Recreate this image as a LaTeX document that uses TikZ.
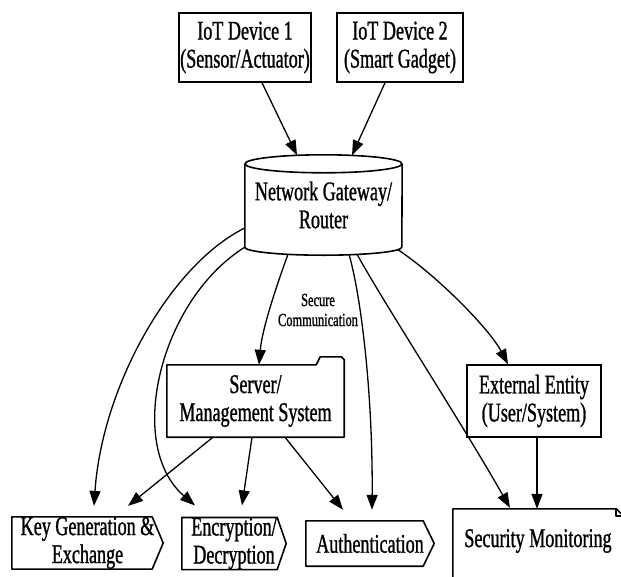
\documentclass[tikz,border=0pt]{standalone}
\usepackage{fontspec}
\setmainfont[FakeStretch=0.67,FakeBold=1]{Liberation Serif}
\usetikzlibrary{arrows.meta,calc}
\begin{document}
\begin{tikzpicture}[x=1pt,y=-1pt,
  box/.style={draw,line width=1.6pt,align=center,font=\fontsize{27}{28}\selectfont,inner sep=0pt},
  plain/.style={align=center,font=\fontsize{27}{28}\selectfont,inner sep=0pt},
  small/.style={align=center,font=\fontsize{18.5}{20}\selectfont,inner sep=0pt},
  edge/.style={line width=1.3pt,-{Triangle[length=15pt,width=11pt]}},
  outline/.style={line width=1.6pt,line join=round},
]
\useasboundingbox (0,0) rectangle (621,576);

% nodes
\node[box,minimum width=132pt,minimum height=69pt] (iot1) at (245,47.5) {IoT Device 1\\(Sensor/Actuator)};
\node[box,minimum width=126pt,minimum height=69pt] (iot2) at (400,47.5) {IoT Device 2\\(Smart Gadget)};
\node[plain,minimum width=157pt,minimum height=100pt] (gw) at (323.5,205) {Network Gateway/\\Router};
\node[plain,minimum width=177pt,minimum height=72pt] (srv) at (255.5,401) {Server/\\Management System};
\node[box,minimum width=134pt,minimum height=72pt] (ext) at (534,401) {External Entity\\(User/System)};
\node[plain,minimum width=151pt,minimum height=50pt] (kg) at (87.5,543) {Key Generation \&\\Exchange};
\node[plain,minimum width=104pt,minimum height=49pt] (enc) at (234,543.5) {Encryption/\\Decryption};
\node[plain,minimum width=128pt,minimum height=45pt] (auth) at (370,543.5) {Authentication};
\node[plain,minimum width=170pt,minimum height=64pt] (secmon) at (538,541) {Security Monitoring};
\node[small] (lbl) at (318,310) {Secure\\Communication};

% gateway cylinder
\draw[outline] ($(gw.north)+(0,9)$) ellipse [x radius=78.5pt,y radius=9pt];
\draw[outline] ($(gw.north west)+(0,9)$) -- ($(gw.south west)+(0,-8)$)
  arc[start angle=180,end angle=360,x radius=78.5pt,y radius=8pt]
  -- ($(gw.north east)+(0,9)$);

% server folder
\draw[outline] (srv.north west) -- ($(srv.north east)+(-28,0)$) -- ($(srv.north east)+(-24,-8)$)
  -- ($(srv.north east)+(-3,-8)$) -- ($(srv.north east)+(0,-5)$) -- (srv.south east)
  -- (srv.south west) -- cycle;

% signal shapes
\draw[outline] (kg.north west) -- ($(kg.north east)+(-11,0)$) -- (kg.east)
  -- ($(kg.south east)+(-11,0)$) -- (kg.south west) -- cycle;
\draw[outline] (enc.north west) -- ($(enc.north east)+(-9,0)$) -- (enc.east)
  -- ($(enc.south east)+(-9,0)$) -- (enc.south west) -- cycle;
\draw[outline] (auth.north west) -- ($(auth.north east)+(-11,0)$) -- (auth.east)
  -- ($(auth.south east)+(-11,0)$) -- (auth.south west) -- cycle;

% note shape
\draw[outline] ($(secmon.north west)+(0,80)$) -- (secmon.north west) -- ($(secmon.north east)+(-7,0)$)
  -- ($(secmon.north east)+(0,7)$) -- ($(secmon.north east)+(0,80)$);
\draw[outline] ($(secmon.north east)+(-7,0)$) -- ($(secmon.north east)+(-7,7)$) -- ($(secmon.north east)+(0,7)$);

% edges
\draw[edge] ($(iot1.south)+(17,0)$) -- ($(gw.north)+(-26.5,0.5)$);
\draw[edge] ($(iot2.south)+(-15,0)$) -- ($(gw.north)+(28.5,0.5)$);
\draw[edge] ($(gw.west)+(0,23)$) .. controls (170,265) and (102,387) .. ($(kg.north)+(6.5,-11)$);
\draw[edge] ($(gw.south west)+(0,-8)$) .. controls (160,300) and (125,445) .. ($(enc.north)+(-39,-12)$);
\draw[edge] ($(gw.south)+(-35.5,-1)$) .. controls (275,290) and (262,330) .. ($(srv.north)+(3.5,0)$);
\draw[edge] ($(gw.south)+(25.5,-1)$) .. controls (362,300) and (373,400) .. ($(auth.north)+(2,-11)$);
\draw[edge] ($(gw.south)+(33.5,-1)$) .. controls (385,305) and (460,420) .. ($(secmon.north)+(-28,-1)$);
\draw[edge] ($(gw.south)+(74.5,-5.5)$) .. controls (440,278) and (490,330) .. ($(ext.north)+(-26,0)$);
\draw[edge] ($(srv.south)+(-42.5,0)$) -- ($(kg.north)+(40.5,-11)$);
\draw[edge] ($(srv.south)+(-3.5,0)$) -- ($(enc.north)+(8,-12)$);
\draw[edge] ($(srv.south)+(29.5,0)$) -- ($(auth.north)+(-27,-11)$);
\draw[edge] ($(ext.south)+(3,0)$) -- ($(secmon.north)+(-1,0)$);
\end{tikzpicture}
\end{document}
